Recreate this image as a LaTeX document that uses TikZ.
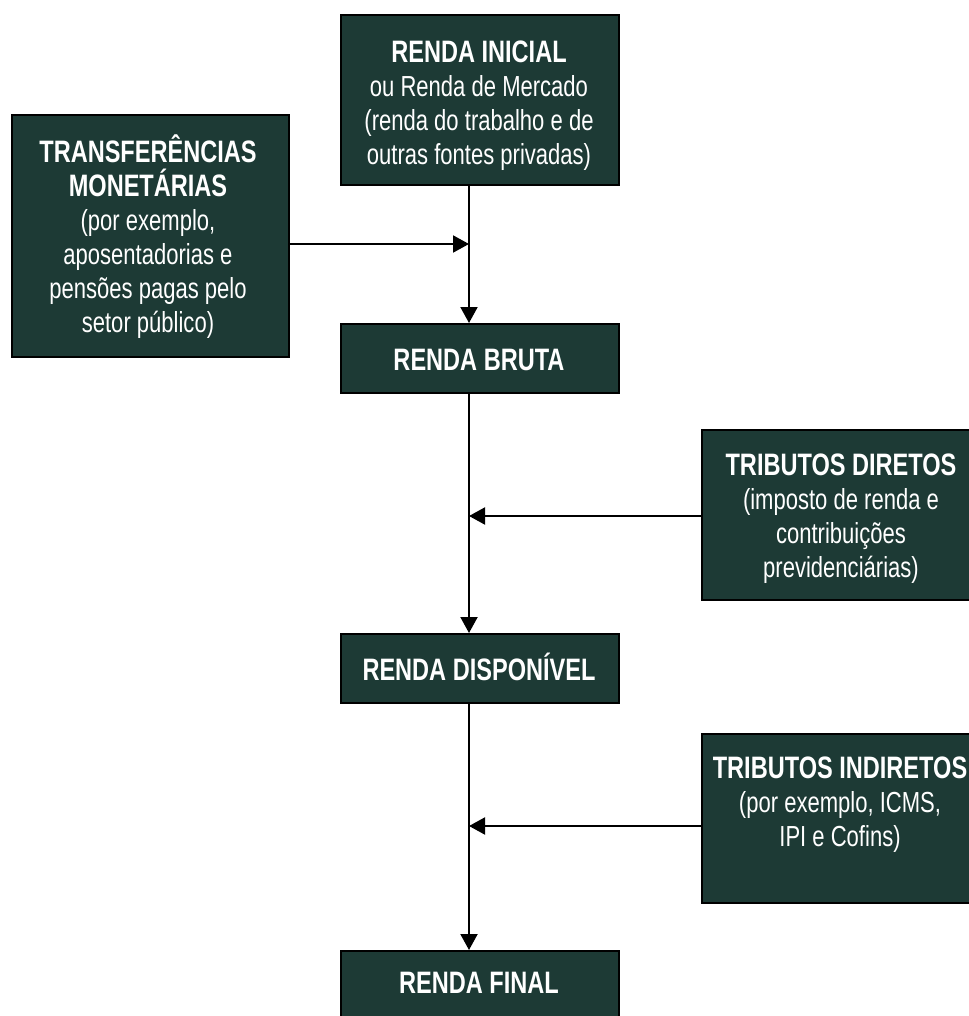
\documentclass[tikz,border=0pt]{standalone}
\usepackage{fontspec}
\setmainfont{Liberation Sans}[FakeStretch=0.76]
\usetikzlibrary{arrows.meta}
\definecolor{boxfill}{RGB}{29,58,53}
\newcommand\hdline[1]{{\fontsize{31}{34}\selectfont\bfseries\rule{0pt}{28pt}#1}}
\begin{document}
\begin{tikzpicture}[x=1pt,y=-1pt,
  box/.style={draw=black, line width=2pt, fill=boxfill, inner sep=0pt, anchor=north west},
  lbl/.style={text=white, align=center, inner sep=0pt, anchor=north, font=\fontsize{29}{34}\selectfont},
  arr/.style={line width=2pt, -{Triangle[length=16pt,width=17pt]}}]
\useasboundingbox (0,0) rectangle (968,1016);
% boxes
\node[box, minimum width=278pt, minimum height=170pt] (ri) at (340,14) {};
\node[box, minimum width=277pt, minimum height=242pt] (tm) at (11,114) {};
\node[box, minimum width=278pt, minimum height=69pt] (rb) at (340,323) {};
\node[box, minimum width=280pt, minimum height=170pt] (td) at (701,429) {};
\node[box, minimum width=278pt, minimum height=69pt] (rd) at (340,633) {};
\node[box, minimum width=280pt, minimum height=169pt] (ti) at (701,733) {};
\node[box, minimum width=278pt, minimum height=70pt] (rf) at (340,950) {};
% labels
\node[lbl] (riT) at (479,34) {\hdline{RENDA INICIAL}\\ou Renda de Mercado\\(renda do trabalho e de\\outras fontes privadas)};
\node[lbl] (tmT) at (148,134) {\hdline{TRANSFERÊNCIAS}\\\hdline{MONETÁRIAS}\\(por exemplo,\\aposentadorias e\\pensões pagas pelo\\setor público)};
\node[lbl] (rbT) at (479,342) {\hdline{RENDA BRUTA}};
\node[lbl] (tdT) at (841,447) {\hdline{TRIBUTOS DIRETOS}\\(imposto de renda e\\contribuições\\previdenciárias)};
\node[lbl] (rdT) at (479,652) {\hdline{RENDA DISPONÍVEL}};
\node[lbl] (tiT) at (840,750) {\hdline{TRIBUTOS INDIRETOS}\\(por exemplo, ICMS,\\IPI e Cofins)};
\node[lbl] (rfT) at (479,965) {\hdline{RENDA FINAL}};
% connectors
\coordinate (sp) at (469,0);
\coordinate (j1) at (469,244);
\coordinate (j2) at (469,516);
\coordinate (j3) at (469,826);
\draw[arr] (ri.south -| sp) -- (rb.north -| sp);
\draw[arr] (rb.south -| sp) -- (rd.north -| sp);
\draw[arr] (rd.south -| sp) -- (rf.north -| sp);
\draw[arr] (tm.east |- j1) -- (j1);
\draw[arr] (td.west |- j2) -- (j2);
\draw[arr] (ti.west |- j3) -- (j3);
\end{tikzpicture}
\end{document}
